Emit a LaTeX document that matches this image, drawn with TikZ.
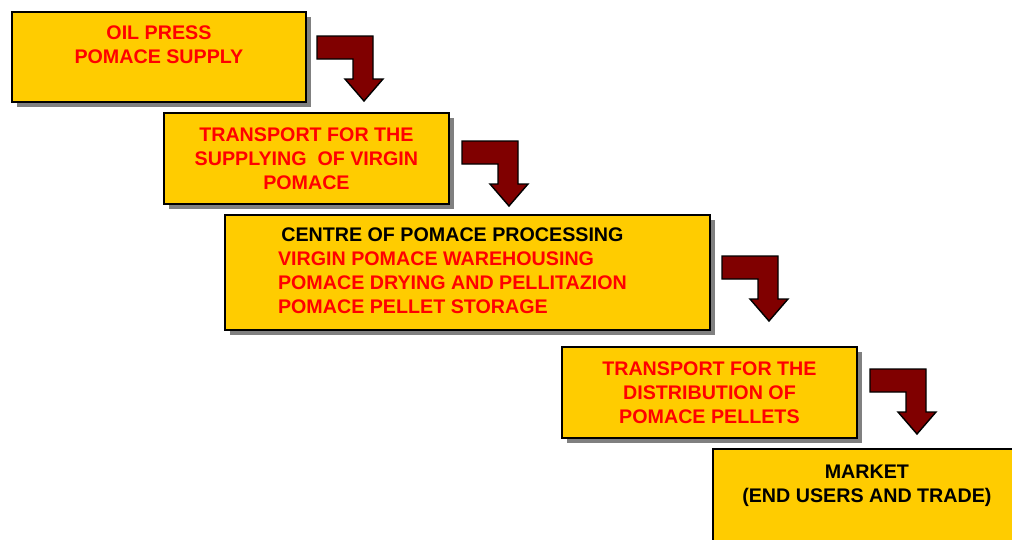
\documentclass[tikz,border=0pt]{standalone}
\usepackage{fontspec}
\setmainfont{Liberation Sans}
\usepackage{tikz}
\usetikzlibrary{shadows}

\definecolor{stageyellow}{HTML}{FFCC00}
\definecolor{stagered}{HTML}{FF0000}
\definecolor{turnmaroon}{HTML}{800000}
\definecolor{shadegray}{HTML}{808080}

\tikzset{
  stage/.style={draw=black,line width=1.1pt,fill=stageyellow,anchor=north west,
    align=center,inner sep=0pt,text=stagered,
    font=\fontsize{11.2pt}{13.66pt}\selectfont\bfseries,
    general shadow={fill=shadegray,shadow xshift=0.1cm,shadow yshift=-0.1cm}},
  turnarrow/.style={draw=black,line width=0.8pt,fill=turnmaroon,line join=miter}
}

\begin{document}
\begin{tikzpicture}[x=0.02cm,y=-0.02cm]
\clip (0,0) rectangle (1012,539);

% Oil press
\node[stage,minimum width=5.88cm,minimum height=1.8cm] (press) at (11,11)
  {OIL PRESS\\POMACE SUPPLY\\\mbox{}};

% Transport of virgin pomace
\node[stage,minimum width=5.7cm,minimum height=1.82cm] (supply) at (163,112)
  {TRANSPORT FOR THE\\SUPPLYING\ \ OF VIRGIN\\POMACE};

% Processing centre
\node[stage,minimum width=9.7cm,minimum height=2.3cm] (centre) at (224,214)
  {\raisebox{-2pt}{\begin{tabular}{@{}l@{}}
   \multicolumn{1}{@{}c@{}}{\color{black}CENTRE OF POMACE PROCESSING}\\
   VIRGIN POMACE WAREHOUSING\\
   POMACE DRYING AND PELLITAZION\\
   POMACE PELLET STORAGE
   \end{tabular}}\hspace{0.6cm}};

% Transport of pellets
\node[stage,minimum width=5.9cm,minimum height=1.82cm] (distrib) at (561,346)
  {TRANSPORT FOR THE\\DISTRIBUTION OF\\POMACE PELLETS};

% Market
\node[stage,text=black,minimum width=6.16cm,minimum height=1.88cm] (market) at (712,448)
  {MARKET\\(END USERS AND TRADE)\\\mbox{}};

% bent arrows between the stages
\foreach \ax/\ay in {317/36,462/141,722/256,870/369}
  \draw[turnarrow] (\ax,\ay) -- ++(56,0) -- ++(0,43) -- ++(10,0) -- ++(-19,22)
    -- ++(-19,-22) -- ++(8,0) -- ++(0,-20) -- ++(-36,0) -- cycle;
\end{tikzpicture}
\end{document}
